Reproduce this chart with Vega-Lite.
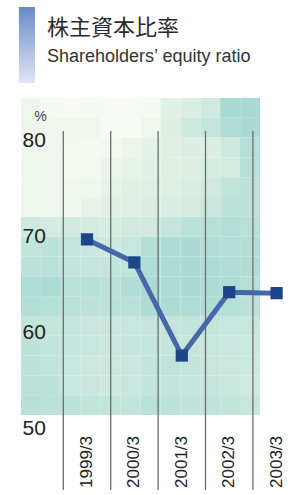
{
"$schema":"https://vega.github.io/schema/vega-lite/v6.json",
"width":275,"height":392,
"autosize":"none",
"padding":{"left":21,"top":98,"right":0,"bottom":5},
"background":"white",
"config":{"view":{"stroke":null}},
"title":{"text":"株主資本比率","subtitle":"Shareholders’ equity ratio","anchor":"start","frame":"group","dx":26,"offset":-60,"font":"Noto Sans CJK JP","fontSize":22,"fontWeight":"normal","color":"#2b2b2b","subtitleFont":"Liberation Sans","subtitleFontSize":18,"subtitleColor":"#333333","subtitlePadding":8},
"datasets":{
"ratio":[
{"year":"1999/3","value":69.7},
{"year":"2000/3","value":67.3},
{"year":"2001/3","value":57.6},
{"year":"2002/3","value":64.2},
{"year":"2003/3","value":64.1}
],
"tiles":[
{"r":0,"c":0,"s":0.12},{"r":0,"c":1,"s":0.05},{"r":0,"c":2,"s":0.03},{"r":0,"c":3,"s":0.05},{"r":0,"c":4,"s":0.02},{"r":0,"c":5,"s":0.02},{"r":0,"c":6,"s":0.05},{"r":0,"c":7,"s":0.25},{"r":0,"c":8,"s":0.33},{"r":0,"c":9,"s":0.43},{"r":0,"c":10,"s":0.9},{"r":0,"c":11,"s":0.88},
{"r":1,"c":0,"s":0.15},{"r":1,"c":1,"s":0.1},{"r":1,"c":2,"s":0.1},{"r":1,"c":3,"s":0.12},{"r":1,"c":4,"s":0.01},{"r":1,"c":5,"s":0.01},{"r":1,"c":6,"s":0.12},{"r":1,"c":7,"s":0.3},{"r":1,"c":8,"s":0.45},{"r":1,"c":9,"s":0.55},{"r":1,"c":10,"s":0.8},{"r":1,"c":11,"s":0.88},
{"r":2,"c":0,"s":0.1},{"r":2,"c":1,"s":0.1},{"r":2,"c":2,"s":0.06},{"r":2,"c":3,"s":0.05},{"r":2,"c":4,"s":0.07},{"r":2,"c":5,"s":0.15},{"r":2,"c":6,"s":0.22},{"r":2,"c":7,"s":0.28},{"r":2,"c":8,"s":0.32},{"r":2,"c":9,"s":0.33},{"r":2,"c":10,"s":0.45},{"r":2,"c":11,"s":0.75},
{"r":3,"c":0,"s":0.1},{"r":3,"c":1,"s":0.1},{"r":3,"c":2,"s":0.05},{"r":3,"c":3,"s":0.06},{"r":3,"c":4,"s":0.15},{"r":3,"c":5,"s":0.2},{"r":3,"c":6,"s":0.25},{"r":3,"c":7,"s":0.27},{"r":3,"c":8,"s":0.3},{"r":3,"c":9,"s":0.38},{"r":3,"c":10,"s":0.4},{"r":3,"c":11,"s":0.75},
{"r":4,"c":0,"s":0.1},{"r":4,"c":1,"s":0.1},{"r":4,"c":2,"s":0.1},{"r":4,"c":3,"s":0.12},{"r":4,"c":4,"s":0.2},{"r":4,"c":5,"s":0.25},{"r":4,"c":6,"s":0.28},{"r":4,"c":7,"s":0.28},{"r":4,"c":8,"s":0.35},{"r":4,"c":9,"s":0.42},{"r":4,"c":10,"s":0.6},{"r":4,"c":11,"s":0.68},
{"r":5,"c":0,"s":0.1},{"r":5,"c":1,"s":0.1},{"r":5,"c":2,"s":0.1},{"r":5,"c":3,"s":0.2},{"r":5,"c":4,"s":0.27},{"r":5,"c":5,"s":0.28},{"r":5,"c":6,"s":0.32},{"r":5,"c":7,"s":0.35},{"r":5,"c":8,"s":0.37},{"r":5,"c":9,"s":0.5},{"r":5,"c":10,"s":0.65},{"r":5,"c":11,"s":0.65},
{"r":6,"c":0,"s":0.45},{"r":6,"c":1,"s":0.4},{"r":6,"c":2,"s":0.43},{"r":6,"c":3,"s":0.4},{"r":6,"c":4,"s":0.38},{"r":6,"c":5,"s":0.43},{"r":6,"c":6,"s":0.42},{"r":6,"c":7,"s":0.55},{"r":6,"c":8,"s":0.67},{"r":6,"c":9,"s":0.73},{"r":6,"c":10,"s":0.77},{"r":6,"c":11,"s":0.73},
{"r":7,"c":0,"s":0.6},{"r":7,"c":1,"s":0.65},{"r":7,"c":2,"s":0.57},{"r":7,"c":3,"s":0.52},{"r":7,"c":4,"s":0.47},{"r":7,"c":5,"s":0.53},{"r":7,"c":6,"s":0.77},{"r":7,"c":7,"s":0.85},{"r":7,"c":8,"s":0.87},{"r":7,"c":9,"s":0.8},{"r":7,"c":10,"s":0.77},{"r":7,"c":11,"s":0.77},
{"r":8,"c":0,"s":0.65},{"r":8,"c":1,"s":0.67},{"r":8,"c":2,"s":0.58},{"r":8,"c":3,"s":0.55},{"r":8,"c":4,"s":0.58},{"r":8,"c":5,"s":0.6},{"r":8,"c":6,"s":0.82},{"r":8,"c":7,"s":0.85},{"r":8,"c":8,"s":0.87},{"r":8,"c":9,"s":0.85},{"r":8,"c":10,"s":0.8},{"r":8,"c":11,"s":0.8},
{"r":9,"c":0,"s":0.82},{"r":9,"c":1,"s":0.85},{"r":9,"c":2,"s":0.7},{"r":9,"c":3,"s":0.72},{"r":9,"c":4,"s":0.68},{"r":9,"c":5,"s":0.82},{"r":9,"c":6,"s":0.88},{"r":9,"c":7,"s":0.86},{"r":9,"c":8,"s":0.87},{"r":9,"c":9,"s":0.86},{"r":9,"c":10,"s":0.85},{"r":9,"c":11,"s":0.75},
{"r":10,"c":0,"s":0.78},{"r":10,"c":1,"s":0.73},{"r":10,"c":2,"s":0.7},{"r":10,"c":3,"s":0.65},{"r":10,"c":4,"s":0.68},{"r":10,"c":5,"s":0.7},{"r":10,"c":6,"s":0.85},{"r":10,"c":7,"s":0.85},{"r":10,"c":8,"s":0.82},{"r":10,"c":9,"s":0.82},{"r":10,"c":10,"s":0.75},{"r":10,"c":11,"s":0.7},
{"r":11,"c":0,"s":0.6},{"r":11,"c":1,"s":0.57},{"r":11,"c":2,"s":0.55},{"r":11,"c":3,"s":0.5},{"r":11,"c":4,"s":0.5},{"r":11,"c":5,"s":0.52},{"r":11,"c":6,"s":0.55},{"r":11,"c":7,"s":0.55},{"r":11,"c":8,"s":0.58},{"r":11,"c":9,"s":0.57},{"r":11,"c":10,"s":0.52},{"r":11,"c":11,"s":0.52},
{"r":12,"c":0,"s":0.65},{"r":12,"c":1,"s":0.6},{"r":12,"c":2,"s":0.57},{"r":12,"c":3,"s":0.52},{"r":12,"c":4,"s":0.5},{"r":12,"c":5,"s":0.55},{"r":12,"c":6,"s":0.57},{"r":12,"c":7,"s":0.57},{"r":12,"c":8,"s":0.55},{"r":12,"c":9,"s":0.52},{"r":12,"c":10,"s":0.5},{"r":12,"c":11,"s":0.48},
{"r":13,"c":0,"s":0.65},{"r":13,"c":1,"s":0.6},{"r":13,"c":2,"s":0.53},{"r":13,"c":3,"s":0.47},{"r":13,"c":4,"s":0.48},{"r":13,"c":5,"s":0.5},{"r":13,"c":6,"s":0.6},{"r":13,"c":7,"s":0.62},{"r":13,"c":8,"s":0.58},{"r":13,"c":9,"s":0.53},{"r":13,"c":10,"s":0.48},{"r":13,"c":11,"s":0.45},
{"r":14,"c":0,"s":0.68},{"r":14,"c":1,"s":0.65},{"r":14,"c":2,"s":0.53},{"r":14,"c":3,"s":0.5},{"r":14,"c":4,"s":0.47},{"r":14,"c":5,"s":0.52},{"r":14,"c":6,"s":0.6},{"r":14,"c":7,"s":0.58},{"r":14,"c":8,"s":0.57},{"r":14,"c":9,"s":0.55},{"r":14,"c":10,"s":0.52},{"r":14,"c":11,"s":0.42},
{"r":15,"c":0,"s":0.73},{"r":15,"c":1,"s":0.68},{"r":15,"c":2,"s":0.65},{"r":15,"c":3,"s":0.6},{"r":15,"c":4,"s":0.58},{"r":15,"c":5,"s":0.58},{"r":15,"c":6,"s":0.7},{"r":15,"c":7,"s":0.66},{"r":15,"c":8,"s":0.63},{"r":15,"c":9,"s":0.63},{"r":15,"c":10,"s":0.58},{"r":15,"c":11,"s":0.53}
]
},
"layer":[
{
"data":{"name":"tiles"},
"mark":{"type":"rect","strokeWidth":0},
"encoding":{
"x":{"field":"c","type":"ordinal","axis":null,"scale":{"range":[0,239],"paddingInner":0,"paddingOuter":0}},
"y":{"field":"r","type":"ordinal","axis":null,"scale":{"range":[0,317],"paddingInner":0,"paddingOuter":0}},
"color":{"field":"s","type":"quantitative","legend":null,"scale":{"domain":[0,0.5,1],"range":["#f8fbf5","#c9e7de","#a0d7d1"]}}
}
},
{
"data":{"name":"ratio"},
"encoding":{
"x":{"field":"year","type":"nominal","axis":null,"scale":{"range":[42.3,279.3],"paddingInner":0,"paddingOuter":0}},
"y":{"field":"value","type":"quantitative","scale":{"domain":[43.59,84.43],"nice":false,"zero":false},
"axis":{"values":[50,60,70,80],"zindex":2,"ticks":false,"tickSize":0,"domain":false,"grid":false,"labelAlign":"left","labelBaseline":"middle","labelPadding":-1,"labelFont":"Liberation Sans","labelFontSize":21,"labelColor":"#222222","title":"%","titleAngle":0,"titleX":19,"titleY":18,"titleAlign":"center","titleBaseline":"middle","titleFont":"Liberation Sans","titleFontSize":14,"titleFontWeight":"normal","titleColor":"#444444"}}
},
"layer":[
{"mark":{"type":"rule","color":"#6e6e6e","strokeWidth":1.3},
 "encoding":{"x":{"field":"year","type":"nominal","bandPosition":0},"y":{"datum":81},"y2":{"datum":43.59}}},
{"mark":{"type":"line","color":"#4767a9","strokeWidth":5},
 "encoding":{"x":{"field":"year","type":"nominal","bandPosition":0.5}}},
{"mark":{"type":"point","shape":"square","filled":true,"size":150,"color":"#1c468c","opacity":1},
 "encoding":{"x":{"field":"year","type":"nominal","bandPosition":0.5}}},
{"mark":{"type":"text","angle":270,"align":"left","baseline":"middle","font":"Liberation Sans","fontSize":17,"color":"#222222"},
 "encoding":{"x":{"field":"year","type":"nominal","bandPosition":0.5},"y":{"datum":43.8},"text":{"field":"year"}}},
{"mark":{"type":"rect","color":{"gradient":"linear","x1":0,"y1":0,"x2":0,"y2":1,"stops":[{"offset":0,"color":"#6a8bc8"},{"offset":1,"color":"#dfe5f3"}]}},
 "encoding":{"x":{"datum":"1999/3","bandPosition":-0.935},"x2":{"datum":"1999/3","bandPosition":-0.597},"y":{"datum":93.9},"y2":{"datum":85.99}}}
]
}
],
"resolve":{"scale":{"x":"independent","y":"independent","color":"independent"}}
}
